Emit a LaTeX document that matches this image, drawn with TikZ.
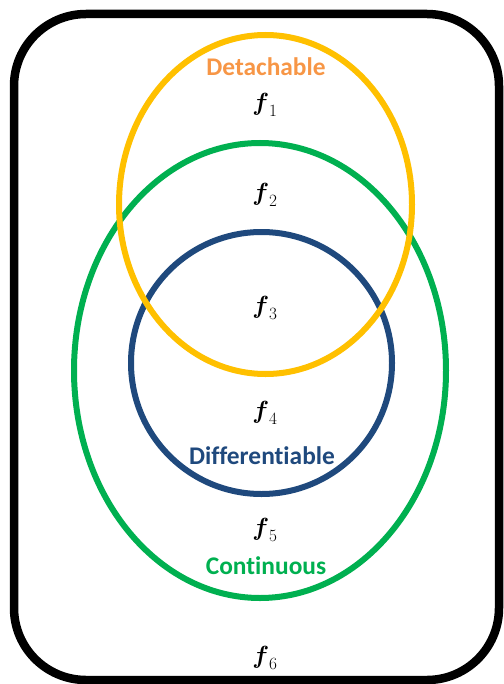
\documentclass[tikz,border=0pt]{standalone}
\usepackage{amsmath}
\usepackage{fontspec}
\newfontfamily\calib{Carlito}[BoldFont={* Bold}, Ligatures=NoCommon]
\definecolor{cyellow}{HTML}{FFC000}
\definecolor{cgreen}{HTML}{00B050}
\definecolor{cblue}{HTML}{1F497D}
\definecolor{corange}{HTML}{F79646}
\begin{document}
\begin{tikzpicture}[x=1bp,y=-1bp,
  setlabel/.style={font=\calib\bfseries\fontsize{25.5}{28}\selectfont, inner sep=0pt},
  fn/.style={font=\fontsize{27}{30}\selectfont, inner sep=0pt},
  setline/.style={line width=6bp}]
\useasboundingbox (0,0) rectangle (504,684);
\draw[line width=8.5bp, rounded corners=72bp] (14,14) rectangle (499,680);
\draw[setline, cgreen] (260,370.5) ellipse [x radius=186, y radius=227.5];
\draw[setline, cblue] (261.5,363) ellipse [x radius=130.5, y radius=131];
\draw[setline, cyellow] (265.5,204.5) ellipse [x radius=146.5, y radius=169.5];
\node[setlabel, text=corange] (det) at (266,67) {Detachable};
\node[setlabel, text=cblue] (dif) at (262,456) {Differentiable};
\node[setlabel, text=cgreen] (con) at (266,566) {Continuous};
\node[fn] (f1) at (265,105) {$\boldsymbol{f}_1$};
\node[fn] (f2) at (265,195) {$\boldsymbol{f}_2$};
\node[fn] (f3) at (265,308) {$\boldsymbol{f}_3$};
\node[fn] (f4) at (265,413) {$\boldsymbol{f}_4$};
\node[fn] (f5) at (265,530) {$\boldsymbol{f}_5$};
\node[fn] (f6) at (265,658) {$\boldsymbol{f}_6$};
\end{tikzpicture}
\end{document}
